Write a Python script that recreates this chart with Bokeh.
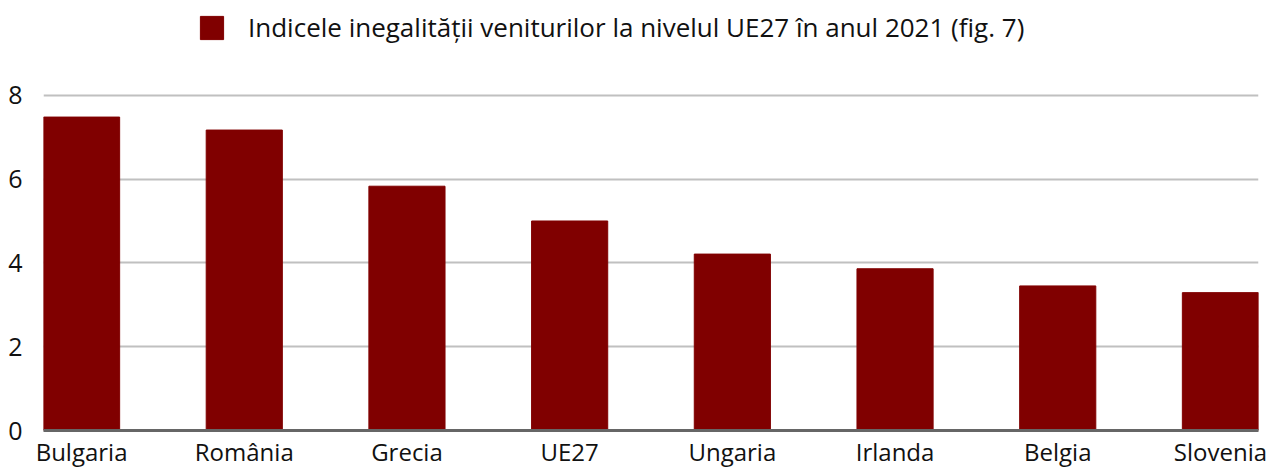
from bokeh.plotting import figure
from bokeh.models import Range1d, FixedTicker, Legend, LegendItem, ColumnDataSource
from bokeh.embed import file_html
from bokeh.resources import INLINE

countries = ["Bulgaria", "România", "Grecia", "UE27", "Ungaria", "Irlanda", "Belgia", "Slovenia"]
values = [7.48, 7.17, 5.83, 5.00, 4.21, 3.86, 3.45, 3.29]
y_ticks = [0, 2, 4, 6, 8]
series_name = "Indicele inegalității veniturilor la nivelul UE27 în anul 2021 (fig. 7)"

FONT = "Open Sans"
BAR = "#800000"

idx = list(range(len(countries)))
src = ColumnDataSource(dict(x=idx, top=values, name=countries))

# frame spans from the top of the picture to the baseline; the upper part holds the legend
p = figure(width=1270, height=470, output_backend="svg", toolbar_location=None,
           x_range=Range1d(-0.234, len(countries) - 1 + 0.234),
           y_range=Range1d(0, 431 / 42),
           min_border_left=43, min_border_right=12, min_border_top=0, min_border_bottom=39)
p.outline_line_color = None
p.background_fill_color = "white"
p.border_fill_color = "white"

r = p.vbar(x="x", top="top", width=0.468, bottom=0, source=src, color=BAR)

p.xgrid.grid_line_color = None
p.ygrid.ticker = FixedTicker(ticks=y_ticks)
p.ygrid.grid_line_color = "#c0c0c0"
p.ygrid.grid_line_width = 2

p.xaxis.ticker = FixedTicker(ticks=idx)
p.xaxis.major_label_overrides = {i: c for i, c in enumerate(countries)}
p.xaxis.axis_line_color = "#666666"
p.xaxis.axis_line_width = 3
p.xaxis.major_tick_line_color = None
p.xaxis.minor_tick_line_color = None
p.xaxis.major_tick_out = 0
p.xaxis.major_label_standoff = 4
p.xaxis.major_label_text_font = FONT
p.xaxis.major_label_text_font_size = "24px"
p.xaxis.major_label_text_color = "#111111"

p.yaxis.ticker = FixedTicker(ticks=y_ticks)
p.yaxis.axis_line_color = None
p.yaxis.major_tick_line_color = None
p.yaxis.minor_tick_line_color = None
p.yaxis.major_tick_out = 0
p.yaxis.major_label_standoff = 21
p.yaxis.major_label_text_font = FONT
p.yaxis.major_label_text_font_size = "25px"
p.yaxis.major_label_text_color = "#111111"

legend = Legend(items=[LegendItem(label=series_name, renderers=[r])],
                location=(154, 385), orientation="horizontal",
                padding=0, margin=0, border_line_color=None, background_fill_alpha=0,
                glyph_width=29, glyph_height=29, label_standoff=22,
                label_text_font=FONT, label_text_font_size="26px", label_text_color="#111111",
                label_height=29)
p.add_layout(legend, "center")

open("out.html", "w").write(file_html(p, INLINE))
